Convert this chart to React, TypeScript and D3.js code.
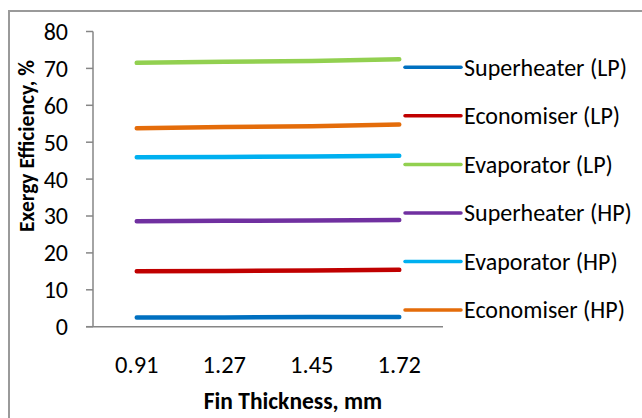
import React from "react";
import * as d3 from "d3";

// Fin thickness categories (mm)
const thickness = ["0.91", "1.27", "1.45", "1.72"];

// Exergy efficiency (%) per heat-exchanger section
const superheaterLP = [2.5, 2.5, 2.6, 2.6];
const economiserLP = [15.0, 15.1, 15.2, 15.4];
const evaporatorLP = [71.5, 71.8, 72.0, 72.5];
const superheaterHP = [28.6, 28.7, 28.8, 28.9];
const evaporatorHP = [45.9, 46.0, 46.1, 46.3];
const economiserHP = [53.8, 54.1, 54.3, 54.8];

const yTicks = [0, 10, 20, 30, 40, 50, 60, 70, 80];

const series = [
  { name: "Superheater (LP)", values: superheaterLP, color: "#0070C0" },
  { name: "Economiser (LP)", values: economiserLP, color: "#C00000" },
  { name: "Evaporator (LP)", values: evaporatorLP, color: "#92D050" },
  { name: "Superheater (HP)", values: superheaterHP, color: "#7030A0" },
  { name: "Evaporator (HP)", values: evaporatorHP, color: "#00B0F0" },
  { name: "Economiser (HP)", values: economiserHP, color: "#E46C0A" },
];

const W = 642;
const H = 418;
const plot = { left: 93, right: 443, top: 31.5, bottom: 326.7 };
const font = "Carlito, Calibri, 'Liberation Sans', Arial, sans-serif";

export default function App() {
  const x = d3
    .scaleBand<string>()
    .domain(thickness)
    .range([plot.left, plot.right])
    .padding(0);
  const y = d3.scaleLinear().domain([0, 80]).range([plot.bottom, plot.top]);
  const cx = (c: string) => (x(c) ?? 0) + x.bandwidth() / 2;

  const line = d3
    .line<number>()
    .x((_, i) => cx(thickness[i]))
    .y((v) => y(v));

  const legendX0 = 405;
  const legendX1 = 461;
  const legendY0 = 67.3;
  const legendStep = 48.55;

  return (
    <svg
      width={W}
      height={H}
      style={{ position: "absolute", left: 0, top: 0, background: "#fff" }}
      fontFamily={font}
    >
      <rect x={0} y={0} width={W} height={H} fill="#fff" />
      <rect x={9} y={11} width={W + 20} height={H + 20} fill="none" stroke="#9a9a9a" strokeWidth={2} />

      {/* y axis */}
      <line x1={plot.left} x2={plot.left} y1={y(80)} y2={y(0)} stroke="#868686" strokeWidth={1.5} />
      {yTicks.map((t) => (
        <g key={t}>
          <line x1={plot.left - 7} x2={plot.left} y1={y(t)} y2={y(t)} stroke="#868686" strokeWidth={1.5} />
          <text x={68} y={y(t)} dy="0.35em" textAnchor="end" fontSize={24} fill="#000">
            {t}
          </text>
        </g>
      ))}

      {/* x axis */}
      <line x1={plot.left - 7} x2={plot.right} y1={y(0)} y2={y(0)} stroke="#868686" strokeWidth={1.5} />
      {thickness.map((c) => (
        <text key={c} x={cx(c)} y={373} textAnchor="middle" fontSize={24.5} fill="#000">
          {c}
        </text>
      ))}

      {/* series lines */}
      {series.map((s) => (
        <path
          key={s.name}
          d={line(s.values) ?? ""}
          fill="none"
          stroke={s.color}
          strokeWidth={4.5}
          strokeLinecap="round"
          strokeLinejoin="round"
        />
      ))}

      {/* legend */}
      {series.map((s, i) => {
        const ly = legendY0 + i * legendStep;
        return (
          <g key={s.name}>
            <line x1={legendX0} x2={legendX1} y1={ly} y2={ly} stroke={s.color} strokeWidth={3.5} strokeLinecap="round" />
            <text x={legendX1 + 3} y={ly} dy="0.35em" fontSize={24} fill="#000">
              {s.name}
            </text>
          </g>
        );
      })}

      {/* axis titles */}
      <text
        transform="translate(34,146) rotate(-90)"
        textAnchor="middle"
        fontSize={21.5}
        fontWeight="bold"
        fill="#000"
      >
        Exergy Efficiency, %
      </text>
      <text x={293} y={409} textAnchor="middle" fontSize={23.5} fontWeight="bold" fill="#000">
        Fin Thickness, mm
      </text>
    </svg>
  );
}
